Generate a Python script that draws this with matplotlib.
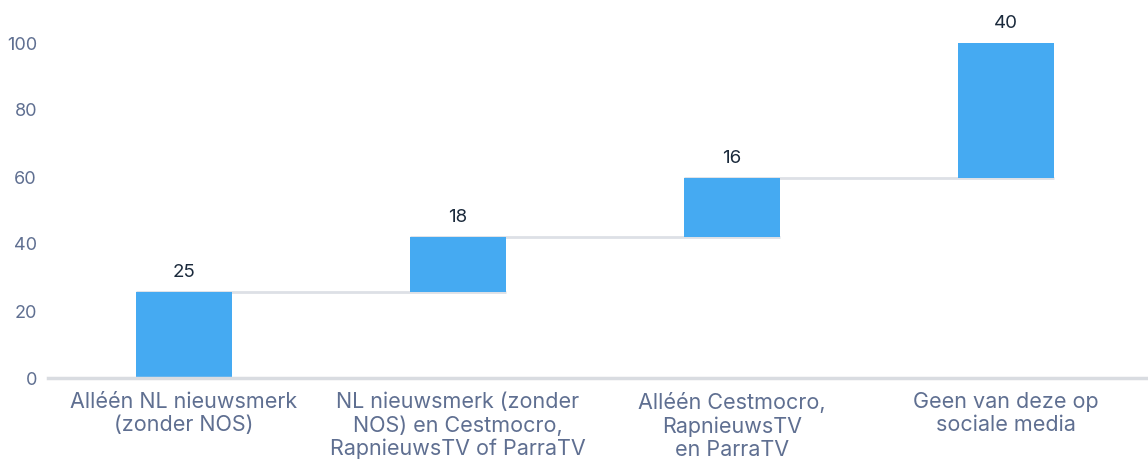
import numpy as np
import matplotlib.pyplot as plt

# categorieën en waarden (waterval)
categorieen = ['Alléén NL nieuwsmerk\n(zonder NOS)',
               'NL nieuwsmerk (zonder\nNOS) en Cestmocro,\nRapnieuwsTV of ParraTV',
               'Alléén Cestmocro,\nRapnieuwsTV\nen ParraTV',
               'Geen van deze op\nsociale media']
stappen = [25.7, 16.4, 17.6, 40.3]   # hoogte van elk segment zoals getekend
labels = [25, 18, 16, 40]            # getoonde waarden
y_ticks = [0, 20, 40, 60, 80, 100]

BLAUW = '#45AAF2'
GRIJS = '#DDE0E6'
AS_KLEUR = '#5F6F91'
TEKST = '#1B2A3C'

plt.rcParams['font.family'] = ['Inter', 'DejaVu Sans']

fig = plt.figure(figsize=(11.48, 4.65), dpi=100)
ax = fig.add_axes([48/1148, 87/465, 1100/1148, 335/465])

x = np.arange(len(categorieen))
bodems = np.concatenate([[0], np.cumsum(stappen)[:-1]])
toppen = bodems + np.array(stappen)
breedte = 0.35

# verbindingslijnen tussen de balken
for i in range(len(stappen) - 1):
    ax.plot([x[i] - breedte/2, x[i+1] + breedte/2], [toppen[i], toppen[i]],
            color=GRIJS, lw=2, zorder=1, solid_capstyle='butt')

ax.bar(x, stappen, bottom=bodems, width=breedte, color=BLAUW, zorder=2)

for xi, top, lab in zip(x, toppen, labels):
    ax.annotate(str(lab), (xi, top), xytext=(0, 8), textcoords='offset points',
                ha='center', va='bottom', fontsize=13.5, color=TEKST)

ax.set_xlim(-0.496, 3.518)
ax.set_ylim(0, 100)
ax.set_yticks(y_ticks)
ax.set_xticks(x)
ax.set_xticklabels(categorieen, fontsize=15.5, color=AS_KLEUR, linespacing=1.2)
ax.tick_params(axis='y', length=0, pad=8, labelsize=13, labelcolor=AS_KLEUR)
ax.tick_params(axis='x', length=0, pad=10)

for kant in ['top', 'right', 'left']:
    ax.spines[kant].set_visible(False)
ax.spines['bottom'].set_color('#D9DCE1')
ax.spines['bottom'].set_linewidth(2.5)

fig.savefig('out.png', dpi=100)
